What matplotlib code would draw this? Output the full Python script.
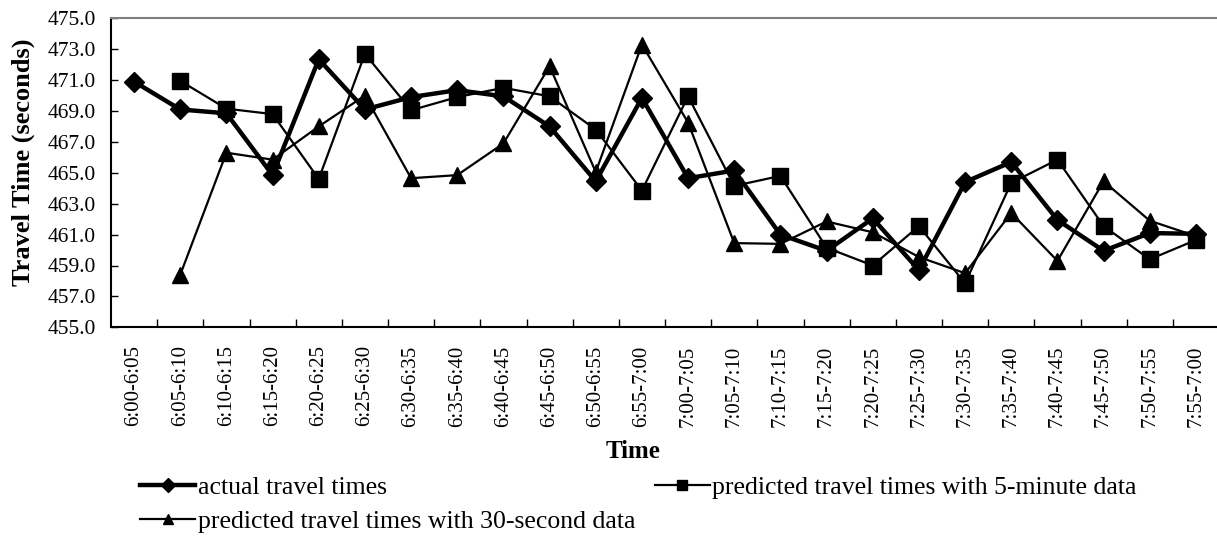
import numpy as np
import matplotlib
matplotlib.use("Agg")
import matplotlib.pyplot as plt
from matplotlib.ticker import FixedLocator

plt.rcParams['font.family'] = ['Liberation Serif', 'DejaVu Serif']

periods = ["6:00-6:05", "6:05-6:10", "6:10-6:15", "6:15-6:20", "6:20-6:25",
           "6:25-6:30", "6:30-6:35", "6:35-6:40", "6:40-6:45", "6:45-6:50",
           "6:50-6:55", "6:55-7:00", "7:00-7:05", "7:05-7:10", "7:10-7:15",
           "7:15-7:20", "7:20-7:25", "7:25-7:30", "7:30-7:35", "7:35-7:40",
           "7:40-7:45", "7:45-7:50", "7:50-7:55", "7:55-7:00"]

actual = [470.9, 469.1, 468.85, 464.85, 472.35, 469.1, 469.9, 470.35, 469.95, 468.0,
          464.45, 469.85, 464.65, 465.15, 461.0, 459.95, 462.05, 458.7,
          464.4, 465.7, 461.95, 459.95, 461.1, 461.05]

pred_5min = [np.nan, 470.95, 469.15, 468.8, 464.6, 472.7, 469.05, 469.9, 470.5, 469.95,
             467.8, 463.85, 469.95, 464.15, 464.8, 460.15, 459.0, 461.55,
             457.85, 464.35, 465.85, 461.55, 459.4, 460.65]

pred_30s = [np.nan, 458.4, 466.3, 465.85, 468.0, 470.0, 464.65, 464.85, 466.9, 471.9,
            465.05, 473.3, 468.25, 460.45, 460.4, 461.85, 461.15, 459.55,
            458.5, 462.4, 459.3, 464.45, 461.9, 460.9]

W, H = 1217, 542
fig = plt.figure(figsize=(W / 100, H / 100), dpi=100)
ax = fig.add_axes([111 / W, 1 - 327.3 / H, 1108 / W, 309 / H])

x = np.arange(len(periods))
l1, = ax.plot(x, actual, color='black', lw=3.2, marker='D', ms=10, zorder=3)
l2, = ax.plot(x, pred_5min, color='black', lw=1.6, marker='s', ms=11, zorder=2)
l3, = ax.plot(x, pred_30s, color='black', lw=1.6, marker='^', ms=11, zorder=2)

ax.set_xlim(-0.5, len(periods) - 0.5)
ax.set_ylim(455, 475)
ax.set_yticks(np.arange(455, 475.1, 2))
ax.set_yticklabels([f"{v:.1f}" for v in np.arange(455, 475.1, 2)])
ax.set_xticks(x)
ax.set_xticklabels(periods, rotation=90, fontsize=15)
ax.xaxis.set_minor_locator(FixedLocator(np.arange(0.5, len(periods) - 0.5, 1)))
ax.tick_params(axis='x', which='major', length=0, pad=13)
ax.tick_params(axis='x', which='minor', direction='in', length=6, width=1, color='black')
ax.tick_params(axis='y', direction='in', length=5, width=1, labelsize=15.5, pad=11)

ax.spines['top'].set_color('#808080')
ax.spines['top'].set_linewidth(1.5)
ax.spines['right'].set_visible(False)
for side in ['left', 'bottom']:
    ax.spines[side].set_color('black')
    ax.spines[side].set_linewidth(1.5)

ax.set_ylabel("Travel Time (seconds)", fontsize=19, fontweight='bold')
ax.yaxis.label.set_va('center')
ax.yaxis.set_label_coords((23 - 111) / 1108, (327.3 - 162.5) / 309)
ax.set_xlabel("Time", fontsize=18, fontweight='bold')
ax.xaxis.label.set_va('center')
ax.xaxis.set_label_coords((633 - 111) / 1108, (327.3 - 451) / 309)

leg = fig.legend([l1, l3, l2],
                 ["actual travel times",
                  "predicted travel times with 30-second data",
                  "predicted travel times with 5-minute data"],
                 ncol=2, loc='upper left', bbox_to_anchor=(140 / W, 1 - 476 / H),
                 frameon=False, fontsize=18.5, handlelength=2.15, handletextpad=0.1,
                 columnspacing=0.75, labelspacing=0.42, markerscale=0.7,
                 borderaxespad=0, borderpad=0)

fig.savefig("out.png", dpi=100)
